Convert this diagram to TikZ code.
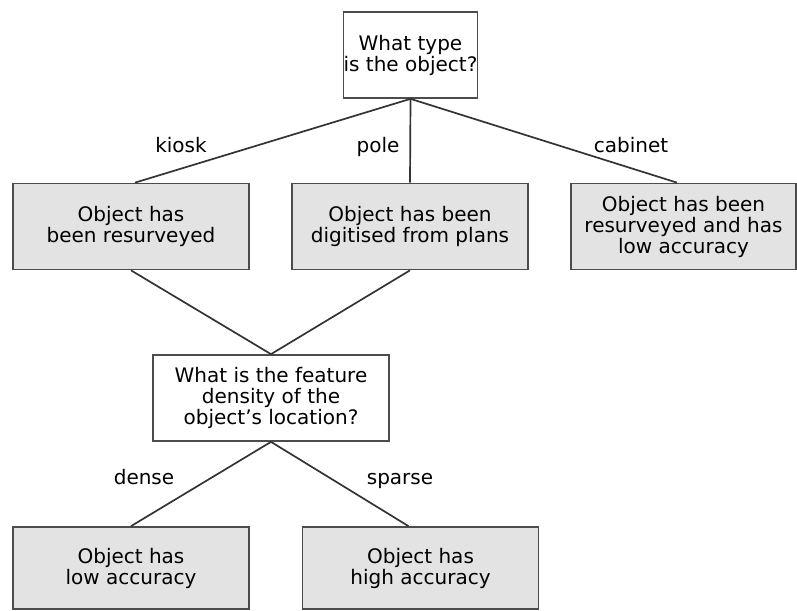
\documentclass[tikz,border=0pt]{standalone}
\usepackage{fontspec}
\setmainfont{DejaVu Sans}

\begin{document}
\begin{tikzpicture}[x=0.5pt, y=-0.5pt,
  every node/.style={font=\fontsize{10}{10.5}\selectfont},
  qbox/.style={draw=black!70, line width=0.85pt, fill=white, align=center, inner sep=0pt, minimum height=43pt},
  abox/.style={qbox, fill=black!11},
  branch/.style={draw=black!80, line width=0.85pt},
  tag/.style={inner sep=0pt, anchor=base}]
  \useasboundingbox (0, 0) rectangle (797, 610);
  \node[qbox, minimum width=62.5pt] (type) at (410.5, 55) {What type\\is the object?};
  \node[abox, minimum width=118pt] (kiosk) at (131, 226.5) {Object has\\been resurveyed};
  \node[abox, minimum width=118pt] (pole) at (410, 226.5) {Object has been\\digitised from plans};
  \node[abox, minimum width=112.5pt] (cabinet) at (683.5, 226.5) {Object has been\\resurveyed and has\\low accuracy};
  \node[qbox, minimum width=118pt] (density) at (271, 398) {What is the feature\\density of the\\object's location?};
  \node[abox, minimum width=118pt, minimum height=41pt] (dense) at (131, 568) {Object has\\low accuracy};
  \node[abox, minimum width=118pt, minimum height=41pt] (sparse) at (420.5, 568) {Object has\\high accuracy};
  \draw[branch] (type.south) -- ([xshift=2pt]kiosk.north);
  \draw[branch] (type.south) -- (pole.north);
  \draw[branch] (type.south) -- ([xshift=-3.25pt]cabinet.north);
  \draw[branch] (kiosk.south) -- (density.north);
  \draw[branch] (pole.south) -- (density.north);
  \draw[branch] (density.south) -- (dense.north);
  \draw[branch] (density.south) -- ([xshift=-6pt]sparse.north);
  \node[tag] (kiosk-tag) at (181, 152) {kiosk};
  \node[tag] (pole-tag) at (378, 152) {pole};
  \node[tag] (cabinet-tag) at (631, 152) {cabinet};
  \node[tag] (dense-tag) at (144, 484) {dense};
  \node[tag] (sparse-tag) at (400, 484) {sparse};
\end{tikzpicture}
\end{document}
